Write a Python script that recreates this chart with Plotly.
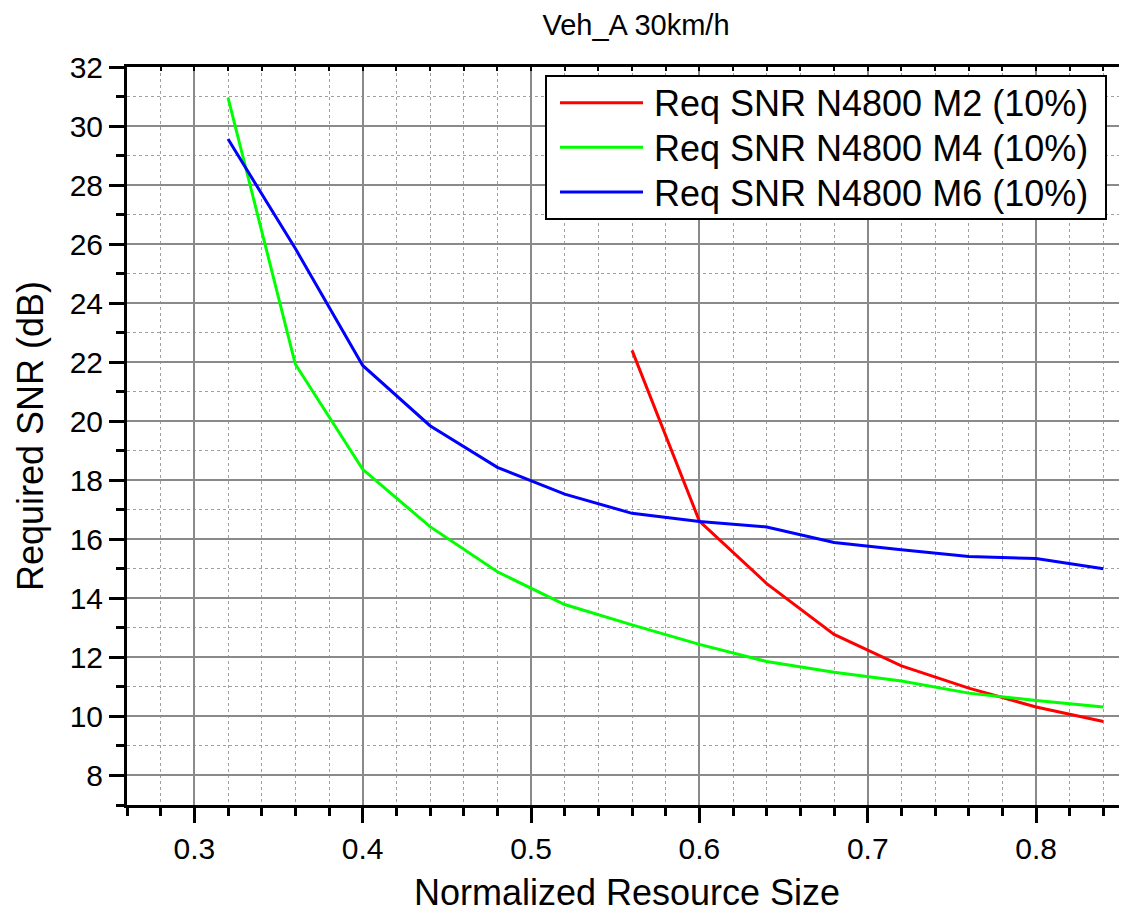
import plotly.graph_objects as go

# ---- data ----
x_all = [0.32, 0.36, 0.40, 0.44, 0.48, 0.52, 0.56, 0.60, 0.64, 0.68, 0.72, 0.76, 0.80, 0.84]
x_m2 = [0.56, 0.60, 0.64, 0.68, 0.72, 0.76, 0.80, 0.84]
snr_m2 = [22.4, 16.62, 14.5, 12.78, 11.71, 10.96, 10.32, 9.83]
snr_m4 = [30.96, 21.93, 18.37, 16.43, 14.9, 13.79, 13.1, 12.44, 11.86, 11.5, 11.2, 10.79, 10.54, 10.32]
snr_m6 = [29.56, 25.85, 21.89, 19.85, 18.44, 17.53, 16.88, 16.6, 16.42, 15.89, 15.65, 15.42, 15.35, 15.0]

names = ["Req SNR N4800 M2 (10%)", "Req SNR N4800 M4 (10%)", "Req SNR N4800 M6 (10%)"]
colors = ["#FF0000", "#00FF00", "#0000FF"]
series_x = [x_m2, x_all, x_all]
series_y = [snr_m2, snr_m4, snr_m6]

title_text = "Veh_A 30km/h"
x_title = "Normalized Resource Size"
y_title = "Required SNR (dB)"

FONT = "Liberation Sans, Arial, sans-serif"
OFF = 8  # page body margin offset
PAGE_W, PAGE_H = 1127, 913
W, H = PAGE_W - OFF, PAGE_H - OFF
# plot area in page pixels: x 127..1127, y 67..805
ML, MR, MT, MB = 127 - OFF, 0, 67 - OFF, PAGE_H - 805
PW, PH = W - ML - MR, H - MT - MB


def px_x(px):
    return (px - OFF - ML) / PW


def px_y(py):
    return (H - MB - (py - OFF)) / PH


fig = go.Figure()
for xs, ys, nm, c in zip(series_x, series_y, names, colors):
    fig.add_trace(go.Scatter(x=xs, y=ys, mode="lines", name=nm,
                             line=dict(color=c, width=3), showlegend=False))

# invisible trace to carry the top axis
fig.add_trace(go.Scatter(x=[0.3], y=[8], xaxis="x2", mode="markers",
                         marker=dict(opacity=0), showlegend=False, hoverinfo="skip"))

grid_major = "#8a8a8a"
grid_minor = "#a0a0a0"

fig.update_layout(
    template="none",
    width=W, height=H,
    margin=dict(l=ML, r=MR, t=MT, b=MB),
    paper_bgcolor="white", plot_bgcolor="white",
    font=dict(family=FONT, color="black"),
    showlegend=False,
    title=dict(text=title_text, font=dict(size=29, family=FONT, color="black"),
               x=(636 - OFF) / W, xanchor="center", xref="container",
               y=1 - (25 - OFF) / H, yanchor="middle", yref="container"),
    xaxis=dict(
        automargin=False,
        range=[0.26, 0.854], tick0=0.3, dtick=0.1, tickformat=".1f",
        showline=True, linecolor="black", linewidth=3,
        ticks="outside", ticklen=15, tickwidth=3, tickcolor="black",
        tickfont=dict(size=30, family=FONT, color="black"),
        showgrid=True, gridcolor=grid_major, gridwidth=1.5,
        zeroline=False,
        minor=dict(dtick=0.02, ticks="outside", ticklen=8, tickwidth=3, tickcolor="black",
                   showgrid=True, gridcolor=grid_minor, griddash="dot", gridwidth=1),
        title=dict(text=x_title, font=dict(size=36, family=FONT, color="black"), standoff=17),
    ),
    xaxis2=dict(
        automargin=False,
        overlaying="x", side="top", anchor="y", matches="x",
        showline=True, linecolor="black", linewidth=3,
        ticks="inside", ticklen=4, tickwidth=2, tickcolor="black",
        tick0=0.26, dtick=0.02, showticklabels=False, showgrid=False, zeroline=False,
    ),
    yaxis=dict(
        automargin=False,
        range=[7, 32], tick0=8, dtick=2,
        showline=True, linecolor="black", linewidth=3,
        ticks="outside", ticklen=15, tickwidth=3, tickcolor="black",
        tickfont=dict(size=30, family=FONT, color="black"),
        showgrid=True, gridcolor=grid_major, gridwidth=1.5,
        zeroline=False,
        minor=dict(dtick=1, ticks="outside", ticklen=8, tickwidth=3, tickcolor="black",
                   showgrid=True, gridcolor=grid_minor, griddash="dot", gridwidth=1),
        title=dict(text=y_title, font=dict(size=36, family=FONT, color="black"), standoff=16),
    ),
)

# ---- custom legend (box, line samples, labels) ----
box_l, box_r, box_t, box_b = 546, 1106, 76, 219
fig.add_shape(type="rect", xref="paper", yref="paper",
              x0=px_x(box_l), x1=px_x(box_r), y0=px_y(box_b), y1=px_y(box_t),
              line=dict(color="black", width=2), fillcolor="white", layer="above")
row_y = [102.7, 147.3, 192.0]
for ry, nm, c in zip(row_y, names, colors):
    fig.add_shape(type="line", xref="paper", yref="paper",
                  x0=px_x(560), x1=px_x(643), y0=px_y(ry), y1=px_y(ry),
                  line=dict(color=c, width=3), layer="above")
    fig.add_annotation(text=nm, xref="paper", yref="paper",
                       x=px_x(652), y=px_y(ry + 1), xanchor="left", yanchor="middle",
                       showarrow=False, font=dict(size=36, family=FONT, color="black"))

fig.write_html("out.html")
